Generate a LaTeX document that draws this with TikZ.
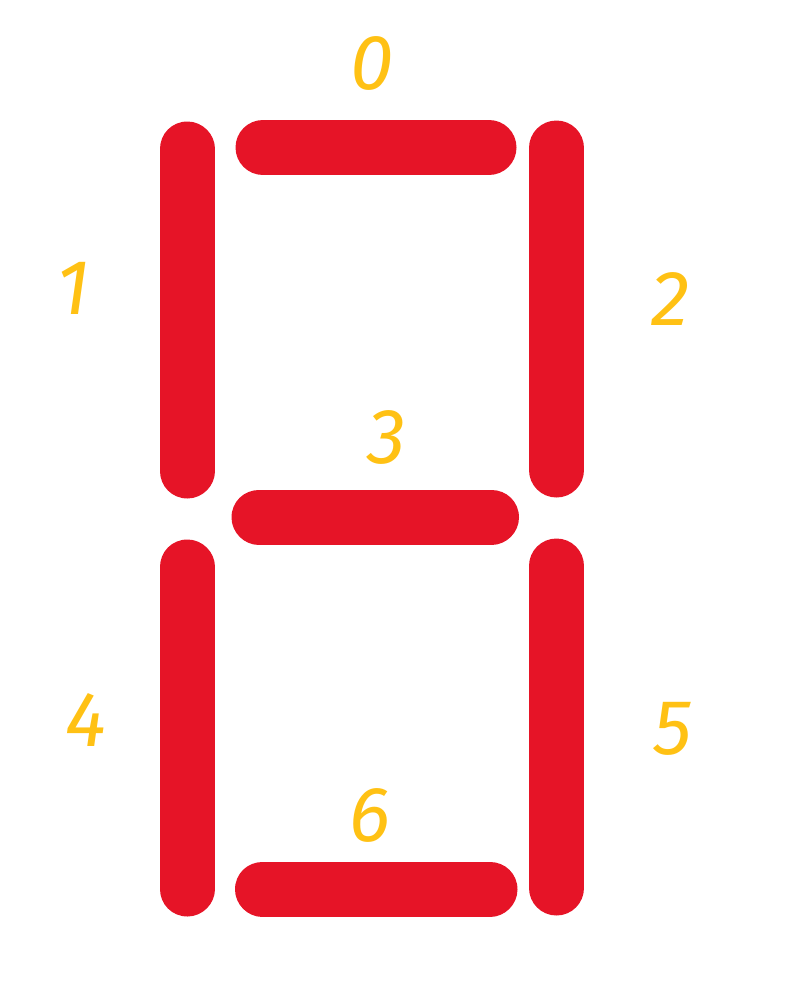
\documentclass[tikz,border=0pt]{standalone}
\usepackage{xcolor}
\usepackage{fontspec}
\setmainfont{Fira Sans}
\definecolor{segred}{HTML}{E61427}
\definecolor{labelyellow}{HTML}{FFC114}

\begin{document}
\begin{tikzpicture}[
  x=1pt, y=-1pt,
  segment/.style={draw=segred, line width=55pt, line cap=round},
  seglabel/.style={
    text=labelyellow,
    font=\fontsize{78}{78}\selectfont\itshape,
    inner sep=0pt
  }
]
  \useasboundingbox (0,0) rectangle (784,998);

  % segments
  \draw[segment] (263,147.5) -- (489,147.5);
  \draw[segment] (187,149) -- (187,471);
  \draw[segment] (556.5,148) -- (556.5,470);
  \draw[segment] (259,517) -- (491.5,517);
  \draw[segment] (187,567) -- (187,889);
  \draw[segment] (556.5,566) -- (556.5,888);
  \draw[segment] (262.5,889) -- (490,889);

  % labels
  \node[seglabel] (lab0) at (372,63) {0};
  \node[seglabel] (lab1) at (73,288) {1};
  \node[seglabel] (lab2) at (671,299) {2};
  \node[seglabel] (lab3) at (387,437) {3};
  \node[seglabel] (lab4) at (86,720) {4};
  \node[seglabel] (lab5) at (673,729) {5};
  \node[seglabel] (lab6) at (370,815) {6};
\end{tikzpicture}
\end{document}
